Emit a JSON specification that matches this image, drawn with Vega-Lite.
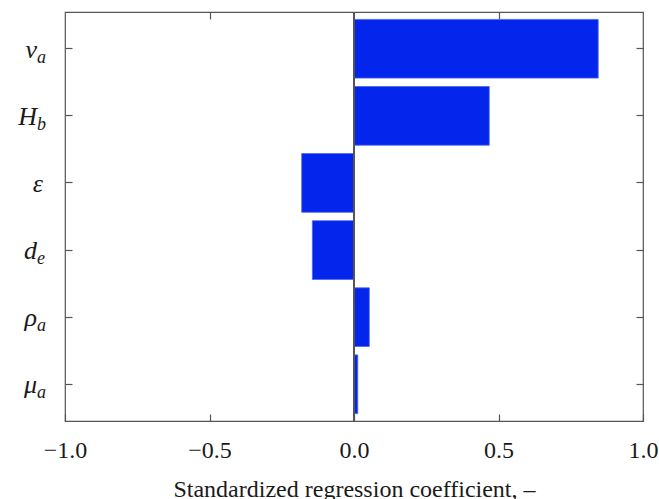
{
  "$schema": "https://vega.github.io/schema/vega-lite/v6.json",
  "width": 578,
  "height": 409,
  "autosize": {"type": "none"},
  "padding": {"left": 65, "top": 12, "right": 16, "bottom": 78},
  "background": "white",
  "config": {
    "view": {"stroke": "#555555", "strokeWidth": 1.2},
    "font": "Liberation Serif",
    "axis": {
      "grid": false,
      "domain": false,
      "tickColor": "#555555",
      "tickWidth": 1.2,
      "labelColor": "#1a1a1a",
      "titleColor": "#1a1a1a",
      "labelFont": "Liberation Serif",
      "titleFont": "Liberation Serif"
    }
  },
  "data": {
    "values": [
      {"param": "va", "sym": "v", "sub": "a", "value": 0.845},
      {"param": "Hb", "sym": "H", "sub": "b", "value": 0.468},
      {"param": "eps", "sym": "ε", "sub": "", "value": -0.181},
      {"param": "de", "sym": "d", "sub": "e", "value": -0.144},
      {"param": "rho", "sym": "ρ", "sub": "a", "value": 0.053},
      {"param": "mu", "sym": "μ", "sub": "a", "value": 0.013}
    ]
  },
  "layer": [
    {
      "mark": {"type": "bar", "color": "#0325ec", "stroke": "#4a66f0", "strokeWidth": 0.8},
      "encoding": {
        "x": {
          "field": "value",
          "type": "quantitative",
          "scale": {"domain": [-1, 1], "nice": false},
          "axis": {
            "orient": "bottom",
            "values": [-1, -0.5, 0, 0.5, 1],
            "format": ".1f",
            "tickSize": -7,
            "labelPadding": 24,
            "labelFontSize": 24,
            "labelFlush": false,
            "title": "Standardized regression coefficient, –",
            "titleFontSize": 24,
            "titleFontWeight": "normal",
            "titlePadding": 15
          }
        },
        "y": {
          "field": "param",
          "type": "nominal",
          "sort": null,
          "scale": {"paddingInner": 0.125, "paddingOuter": 0.11},
          "axis": {"orient": "left", "labels": false, "title": null, "tickSize": -7}
        }
      }
    },
    {
      "mark": {"type": "point", "opacity": 0},
      "encoding": {
        "x": {
          "field": "value",
          "type": "quantitative",
          "axis": {"orient": "top", "labels": false, "title": null, "values": [-0.5, 0.5], "tickSize": -7}
        },
        "y": {
          "field": "param",
          "type": "nominal",
          "sort": null,
          "axis": {"orient": "right", "labels": false, "title": null, "tickSize": -7}
        }
      }
    },
    {
      "mark": {"type": "rule", "color": "#555555", "strokeWidth": 1.2},
      "encoding": {"x": {"datum": 0, "type": "quantitative", "axis": null}}
    },
    {
      "transform": [{"filter": "datum.sub != ''"}],
      "mark": {"type": "text", "align": "right", "baseline": "alphabetic", "dx": -28, "dy": 9, "fontSize": 26, "fontStyle": "italic", "font": "Liberation Serif", "color": "#1a1a1a"},
      "encoding": {
        "y": {"field": "param", "type": "nominal", "sort": null, "axis": null},
        "x": {"datum": -1, "type": "quantitative", "axis": null},
        "text": {"field": "sym"}
      }
    },
    {
      "transform": [{"filter": "datum.sub == ''"}],
      "mark": {"type": "text", "align": "right", "baseline": "alphabetic", "dx": -22, "dy": 9, "fontSize": 26, "fontStyle": "italic", "font": "Liberation Serif", "color": "#1a1a1a"},
      "encoding": {
        "y": {"field": "param", "type": "nominal", "sort": null, "axis": null},
        "x": {"datum": -1, "type": "quantitative", "axis": null},
        "text": {"field": "sym"}
      }
    },
    {
      "transform": [{"filter": "datum.sub != ''"}],
      "mark": {"type": "text", "align": "left", "baseline": "alphabetic", "dx": -28, "dy": 14, "fontSize": 18, "fontStyle": "italic", "font": "Liberation Serif", "color": "#1a1a1a"},
      "encoding": {
        "y": {"field": "param", "type": "nominal", "sort": null, "axis": null},
        "x": {"datum": -1, "type": "quantitative", "axis": null},
        "text": {"field": "sub"}
      }
    }
  ],
  "resolve": {"axis": {"x": "independent", "y": "independent"}}
}
